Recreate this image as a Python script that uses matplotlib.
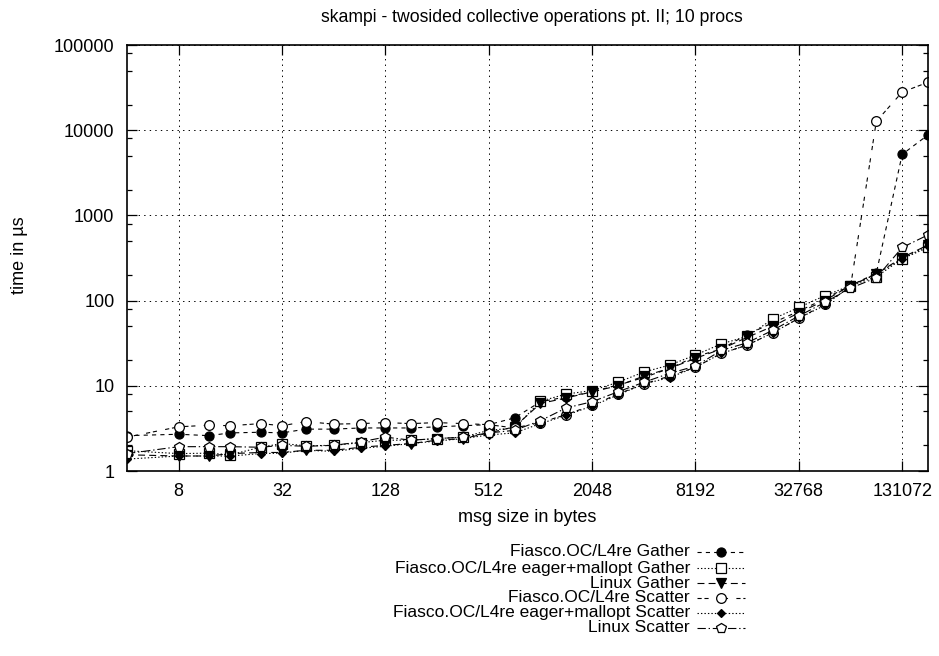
import matplotlib
matplotlib.use("Agg")
import matplotlib.pyplot as plt
from matplotlib.lines import Line2D
from matplotlib.ticker import FixedLocator, FixedFormatter, NullFormatter
import numpy as np

plt.rcParams['font.family'] = ['Liberation Sans', 'DejaVu Sans']
plt.rcParams['lines.scale_dashes'] = False

# message sizes (bytes)
msg_sizes = [4, 8, 12, 16, 24, 32, 44, 64, 92, 128, 180, 256, 364, 512, 724,
             1024, 1448, 2048, 2896, 4096, 5792, 8192, 11584, 16384, 23168,
             32768, 46340, 65536, 92680, 131072, 185364]

# times in microseconds
fiasco_gather = [2.6, 2.7, 2.6, 2.8, 2.85, 2.8, 3.1, 3.1, 3.2, 3.2, 3.2, 3.3, 3.4, 3.5, 4.2,
                 6.5, 7.4, 8.5, 10.2, 12.5, 16, 22, 27, 40, 55,
                 75, 105, 150, 210, 5200, 8800]
mallopt_gather = [1.73, 1.6, 1.62, 1.55, 1.9, 2.1, 1.98, 2.0, 2.15, 2.3, 2.3, 2.4, 2.5, 3.0, 3.2,
                  6.6, 8.0, 8.8, 11, 14.5, 17.5, 23, 31, 38, 61,
                  83, 114, 150, 190, 310, 420]
linux_gather = [1.55, 1.5, 1.5, 1.6, 1.65, 1.65, 1.75, 1.75, 1.9, 2.0, 2.1, 2.3, 2.4, 2.8, 3.3,
                6.2, 7.2, 8.5, 10, 13, 16, 21, 27, 37, 50,
                72, 100, 150, 205, 320, 450]
fiasco_scatter = [2.5, 3.3, 3.45, 3.4, 3.6, 3.4, 3.8, 3.55, 3.6, 3.7, 3.6, 3.7, 3.6, 3.5, 3.2,
                  3.7, 4.6, 5.9, 8.0, 10.5, 13, 16.5, 24, 30, 42,
                  62, 90, 145, 12700, 28000, 36500]
mallopt_scatter = [1.38, 1.5, 1.5, 1.5, 1.6, 1.62, 1.75, 1.7, 1.85, 1.95, 2.1, 2.25, 2.4, 2.65, 2.8,
                   3.6, 4.5, 5.8, 7.8, 10.5, 12.5, 16.5, 24, 30, 42,
                   62, 88, 148, 205, 310, 440]
linux_scatter = [1.6, 1.93, 1.93, 1.93, 1.9, 2.0, 1.95, 2.0, 2.2, 2.5, 2.3, 2.4, 2.5, 2.8, 3.0,
                 3.9, 5.5, 6.5, 8.5, 11, 14, 17, 26, 32, 45,
                 66, 95, 140, 185, 420, 590]

labels = ["Fiasco.OC/L4re Gather",
          "Fiasco.OC/L4re eager+mallopt Gather",
          "Linux Gather",
          "Fiasco.OC/L4re Scatter",
          "Fiasco.OC/L4re eager+mallopt Scatter",
          "Linux Scatter"]

x_ticks = [8, 32, 128, 512, 2048, 8192, 32768, 131072]
y_ticks = [1, 10, 100, 1000, 10000, 100000]

series = [fiasco_gather, mallopt_gather, linux_gather,
          fiasco_scatter, mallopt_scatter, linux_scatter]
# (linestyle, marker, markersize, filled)
styles = [((0, (3, 3)), 'o', 6.5, True),
          ((0, (1, 1.5)), 's', 6.5, False),
          ((0, (5, 3)), 'v', 6.5, True),
          ((0, (3, 2, 3, 6)), 'o', 7, False),
          ((0, (1, 1.5)), 'D', 4.5, True),
          ((0, (6, 2, 1, 2)), 'p', 7, False)]

FS = 13
W, H = 939, 656
fig = plt.figure(figsize=(W / 100, H / 100), dpi=100)
ax = fig.add_axes([127 / W, 1 - 471 / H, (928 - 127) / W, (471 - 45) / H])

for ys, label, (ls, mk, ms, filled) in zip(series, labels, styles):
    ax.plot(msg_sizes, ys, color='black', lw=0.8, linestyle=ls, marker=mk,
            markersize=ms, markerfacecolor='black' if filled else 'white',
            markeredgecolor='black', markeredgewidth=0.9, label=label)

ax.set_xscale('log', base=2)
ax.set_yscale('log')
ax.set_xlim(4, 185364)
ax.set_ylim(1, 100000)

ax.xaxis.set_major_locator(FixedLocator(x_ticks))
ax.xaxis.set_major_formatter(FixedFormatter([str(v) for v in x_ticks]))
ax.xaxis.set_minor_locator(FixedLocator([]))
ax.yaxis.set_major_locator(FixedLocator(y_ticks))
ax.yaxis.set_major_formatter(FixedFormatter([str(v) for v in y_ticks]))
minor_y = [m * 10 ** d for d in range(5) for m in (2, 5, 8)]
ax.yaxis.set_minor_locator(FixedLocator(minor_y))
ax.yaxis.set_minor_formatter(NullFormatter())

ax.tick_params(which='both', direction='in', top=True, right=True,
               labelsize=FS, width=0.9, color='black')
ax.tick_params(which='major', length=7, pad=9)
ax.tick_params(which='minor', length=3.5)
ax.tick_params(axis='x', pad=9)
for sp in ax.spines.values():
    sp.set_linewidth(1.2)

ax.grid(True, which='major', color='black', linestyle=(0, (1, 3)), lw=0.7)

fig.text(532 / W, 1 - 18 / H, "skampi - twosided collective operations pt. II; 10 procs",
         ha='center', va='center', fontsize=12.7)
fig.text(527 / W, 1 - 518 / H, "msg size in bytes", ha='center', va='center', fontsize=FS)
fig.text(20 / W, 1 - 255 / H, "time in µs", ha='center', va='center',
         rotation=90, fontsize=FS)

# key below the plot: right-aligned text, sample line with marker
row_y = [552, 568, 583, 598, 613, 628]
for yy, label, (ls, mk, ms, filled) in zip(row_y, labels, styles):
    fy = 1 - yy / H
    fig.text(690 / W, fy, label, ha='right', va='center', fontsize=12.5)
    fig.add_artist(Line2D([697 / W, 721 / W, 745 / W], [fy, fy, fy],
                          transform=fig.transFigure, color='black', lw=0.8,
                          linestyle=ls, marker=mk, markersize=ms, markevery=[1],
                          markerfacecolor='black' if filled else 'white',
                          markeredgecolor='black', markeredgewidth=0.9))

fig.savefig("out.png", dpi=100)
